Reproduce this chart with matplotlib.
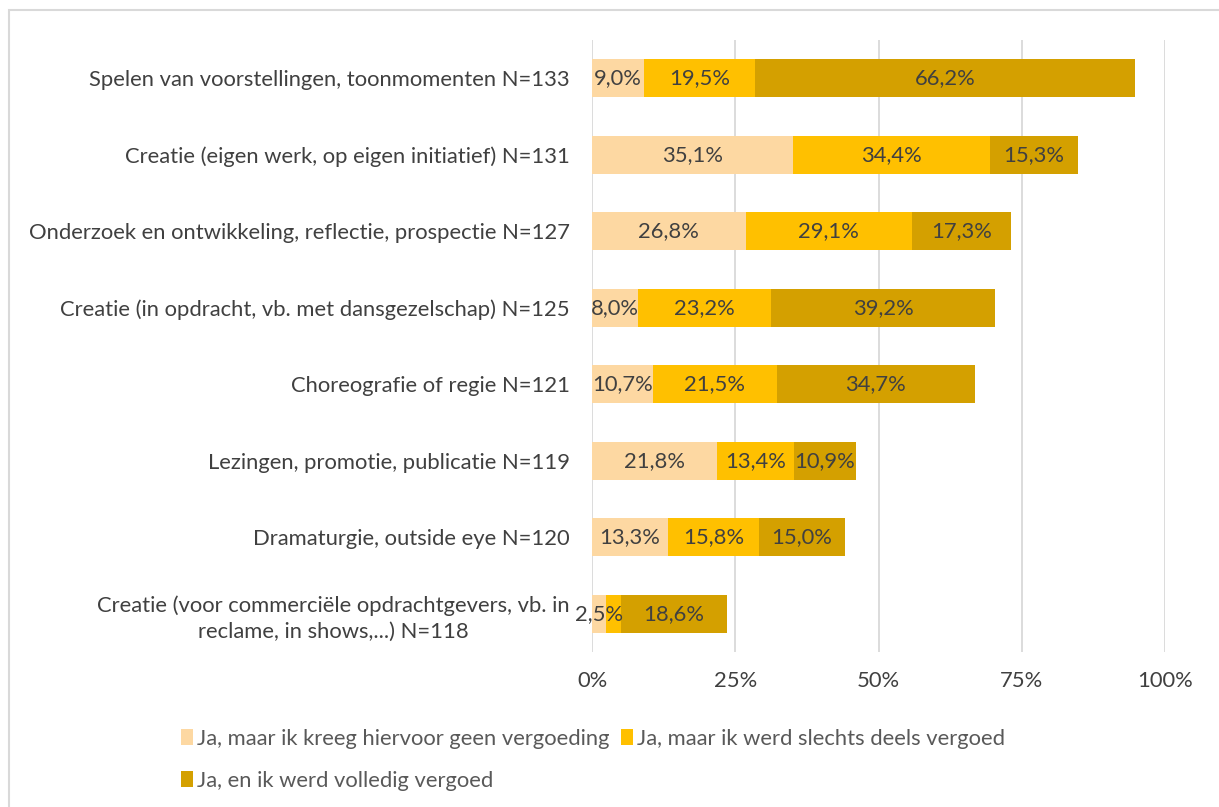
import matplotlib.pyplot as plt
from matplotlib.patches import Rectangle

plt.rcParams['font.family'] = ['Lato', 'DejaVu Sans']

categories = [
    'Spelen van voorstellingen, toonmomenten N=133',
    'Creatie (eigen werk, op eigen initiatief) N=131',
    'Onderzoek en ontwikkeling, reflectie, prospectie N=127',
    'Creatie (in opdracht, vb. met dansgezelschap) N=125',
    'Choreografie of regie N=121',
    'Lezingen, promotie, publicatie N=119',
    'Dramaturgie, outside eye N=120',
    'Creatie (voor commerciële opdrachtgevers, vb. in\nreclame, in shows,...) N=118',
]
geen = [9.0, 35.1, 26.8, 8.0, 10.7, 21.8, 13.3, 2.5]
deels = [19.5, 34.4, 29.1, 23.2, 21.5, 13.4, 15.8, 2.5]
volledig = [66.2, 15.3, 17.3, 39.2, 34.7, 10.9, 15.0, 18.6]
series_names = ['Ja, maar ik kreeg hiervoor geen vergoeding',
                'Ja, maar ik werd slechts deels vergoed',
                'Ja, en ik werd volledig vergoed']
colors = ['#FDD8A2', '#FFC000', '#D4A000']
# labels not shown in the chart
hidden = {(1, 7)}

text_col = '#404040'
fs = 15.8
fig = plt.figure(figsize=(12.19, 8.07), dpi=100)
ax = fig.add_axes([592/1219, 1-652/807, (1165-592)/1219, (652-40)/807])

y = list(range(len(categories)))
left = [0]*len(categories)
handles = []
for si, vals in enumerate([geen, deels, volledig]):
    bars = ax.barh(y, vals, left=left, height=0.5, color=colors[si],
                   label=series_names[si], zorder=3)
    handles.append(bars)
    for i, (b, v) in enumerate(zip(bars, vals)):
        if (si, i) in hidden:
            continue
        ax.text(left[i] + v/2, i, f'{v:.1f}%'.replace('.', ','),
                ha='center', va='center', fontsize=fs, color=text_col, zorder=4)
    left = [l + v for l, v in zip(left, vals)]

ax.set_ylim(len(categories) - 0.5, -0.5)
ax.set_xlim(0, 100)
ax.set_yticks(y)
ax.set_yticklabels(categories, fontsize=fs, color=text_col)
for t in ax.get_yticklabels():
    t.set_multialignment('center')
    t.set_linespacing(1.35)
ax.set_xticks([0, 25, 50, 75, 100])
ax.set_xticklabels(['0%', '25%', '50%', '75%', '100%'], fontsize=fs, color=text_col)
ax.tick_params(axis='x', length=0, pad=14)
ax.tick_params(axis='y', length=0, pad=16)
ax.grid(axis='x', color='#D9D9D9', linewidth=1.3, zorder=0)
for s in ax.spines.values():
    s.set_visible(False)

# row-wise order: geen, deels on first row, volledig on second
order = [0, 2, 1]
fig.legend([handles[k] for k in order], [series_names[k] for k in order],
           loc='upper left', bbox_to_anchor=(172/1219, 1-720/807), ncol=2,
           frameon=False, fontsize=fs, handlelength=0.55, handleheight=0.7,
           handletextpad=0.2, columnspacing=0.5, labelspacing=1.0,
           labelcolor='#595959', borderaxespad=0)

fig.patches.append(Rectangle((9/1219, -0.1), 1.2, 1-10/807+0.1,
                             transform=fig.transFigure, fill=False,
                             edgecolor='#D9D9D9', linewidth=1.5))

fig.savefig('out.png', dpi=100)
